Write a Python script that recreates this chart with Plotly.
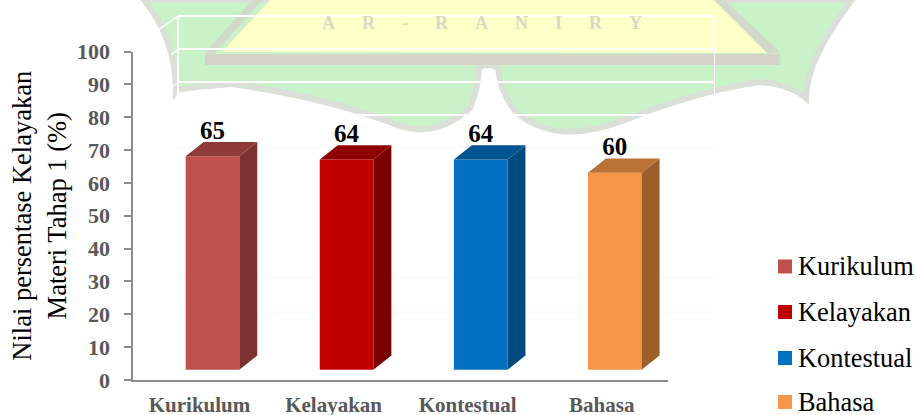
import plotly.graph_objects as go

categories = ["Kurikulum", "Kelayakan", "Kontestual", "Bahasa"]
values = [65, 64, 64, 60]
front_colors = ["#C0504D", "#C00000", "#0070C0", "#F79646"]
top_colors = ["#8E3A38", "#8F0000", "#005490", "#BA7236"]
side_colors = ["#7C3230", "#7A0000", "#004A80", "#9C5F2C"]
y_ticks = [0, 10, 20, 30, 40, 50, 60, 70, 80, 90, 100]
y_title = "Nilai persentase Kelayakan<br>Materi Tahap 1 (%)"

W, H = 916, 415
SERIF = "Liberation Serif, Times New Roman, serif"
bar_width = 0.4
base = 3.1
depth_x = 0.134
depth_y = 4.35


def px(x):
    return x / W


def py(y):
    return 1 - y / H


def poly(points, **kw):
    d = "M" + " L".join(f"{px(x):.5f},{py(y):.5f}" for x, y in points) + " Z"
    return dict(type="path", path=d, xref="paper", yref="paper", layer="below", **kw)


fig = go.Figure()
for i, (name, v) in enumerate(zip(categories, values)):
    l, r = i - bar_width / 2, i + bar_width / 2
    t = base + v
    fig.add_trace(go.Scatter(
        x=[r, r + depth_x, r + depth_x, r, r], y=[base, base + depth_y, t + depth_y, t, base],
        fill="toself", fillcolor=side_colors[i], mode="lines", line=dict(width=0),
        hoverinfo="skip", showlegend=False, cliponaxis=False))
    fig.add_trace(go.Scatter(
        x=[l, r, r + depth_x, l + depth_x, l], y=[t, t, t + depth_y, t + depth_y, t],
        fill="toself", fillcolor=top_colors[i], mode="lines", line=dict(width=0),
        hoverinfo="skip", showlegend=False, cliponaxis=False))
    fig.add_trace(go.Bar(
        x=[i], y=[v], base=base, width=bar_width, name=name,
        marker=dict(color=front_colors[i], line=dict(width=0)), showlegend=False))
    fig.add_trace(go.Scatter(
        x=[i], y=[t + depth_y - 1], mode="text", text=[str(v)], textposition="top center",
        textfont=dict(family=SERIF, size=25, color="#000000"),
        texttemplate="<b>%{text}</b>", hoverinfo="skip", showlegend=False, cliponaxis=False))

shapes = []
# watermark behind the chart
pts = [(144, 0), (176, 40), (176, 91), (178, 88), (232, 84), (330, 98), (400, 126), (436, 138),
       (470, 108), (478, 90), (479, 68), (488, 62), (498, 68), (500, 92), (516, 112), (556, 146),
       (622, 121), (700, 90), (760, 82), (790, 84), (806, 98), (806, 60), (852, 0)]


def c(p):
    return f"{px(p[0]):.5f},{py(p[1]):.5f}"


seq = [c(p) for p in pts]
path = "M" + seq[0]
for j in range(1, len(seq) - 1, 2):
    path += " Q" + seq[j] + " " + seq[j + 1]
path += " Z"
shapes.append(dict(type="path", path=path, xref="paper", yref="paper", layer="below",
                   fillcolor="#C9F2C9", line=dict(color="#DADFD8", width=6)))
shapes.append(poly([(272, -2), (222, 52), (772, 53), (712, -2)], fillcolor="#FFFFC8", line=dict(width=0)))
shapes.append(poly([(254, -2), (264, -2), (214, 54), (204, 54)], fillcolor="#D2D9C8", line=dict(width=0)))
shapes.append(poly([(712, -2), (722, -2), (780, 52), (768, 54)], fillcolor="#D2D9C8", line=dict(width=0)))
shapes.append(poly([(205, 54), (780, 54), (780, 65), (205, 65)], fillcolor="#D4D4C8", line=dict(width=0)))

# back wall lines of the 3D frame
for y in [147, 278, 312]:
    shapes.append(dict(type="line", xref="paper", yref="paper", layer="below",
                       x0=px(178), x1=px(714), y0=py(y), y1=py(y), line=dict(color="#F8F8F8", width=1)))
for y in [16, 49, 82, 115]:
    shapes.append(dict(type="line", xref="paper", yref="paper", layer="below",
                       x0=px(178), x1=px(715), y0=py(y), y1=py(y), line=dict(color="#FFFFFF", width=2)))
shapes.append(dict(type="line", xref="paper", yref="paper", layer="below", x0=px(178), x1=px(178),
                   y0=py(16), y1=py(95), line=dict(color="#FFFFFF", width=2)))
shapes.append(dict(type="line", xref="paper", yref="paper", layer="below", x0=px(714.5), x1=px(714.5),
                   y0=py(16), y1=py(100), line=dict(color="#FFFFFF", width=1)))
for y0, y1, x1 in [(16, 30, 158), (49, 55, 171), (82, 88, 171)]:
    shapes.append(dict(type="line", xref="paper", yref="paper", layer="below", x0=px(178), x1=px(x1),
                       y0=py(y0), y1=py(y1), line=dict(color="#FFFFFF", width=1.5)))

sp = "\u00a0" * 6
annotations = [dict(
    text="<b>" + sp.join(["A", "R", "-", "R", "A", "N", "I", "R", "Y"]) + "</b>",
    xref="paper", yref="paper", x=px(482), y=py(23), xanchor="center", yanchor="middle", showarrow=False,
    font=dict(family=SERIF, size=18, color="#DADAC2"))]

# legend
legend_y = [266.5, 312, 358, 402]
for name, col, y in zip(categories, front_colors, legend_y):
    shapes.append(dict(type="rect", xref="paper", yref="paper", x0=px(778), x1=px(792),
                       y0=py(y - 7), y1=py(y + 7), fillcolor=col, line=dict(width=0)))
    annotations.append(dict(text=name, xref="paper", yref="paper", x=px(797), y=py(y - 0.5),
                            xanchor="left", yanchor="middle", showarrow=False, xshift=-1,
                            font=dict(family=SERIF, size=26.4, color="#000000")))

fig.update_layout(
    width=W, height=H, margin=dict(l=0, r=0, t=0, b=0, autoexpand=False),
    paper_bgcolor="#FFFFFF", plot_bgcolor="rgba(0,0,0,0)", barmode="overlay",
    showlegend=False, shapes=shapes, annotations=annotations,
    xaxis=dict(domain=[px(132.5), px(668)], range=[-0.5966, 3.397], tickmode="array",
               tickvals=list(range(len(categories))),
               ticktext=[f"<b>{c_}</b>" for c_ in categories], showgrid=False, zeroline=False,
               showline=True, linecolor="#8C8C8C", linewidth=2, ticks="", ticklabelstandoff=5,
               ticklabelshift=-13,
               tickfont=dict(family=SERIF, size=21, color="#595959")),
    yaxis=dict(domain=[py(380), py(51.5)], range=[0, 100], tickmode="array", tickvals=y_ticks,
               ticktext=[f"<b>{t}</b>" for t in y_ticks], showgrid=False, zeroline=False,
               showline=True, linecolor="#8C8C8C", linewidth=2, ticks="outside", ticklen=7,
               tickcolor="#8C8C8C", tickwidth=2, ticklabelstandoff=9,
               tickfont=dict(family=SERIF, size=22, color="#595959"),
               title=dict(text=y_title, font=dict(family=SERIF, size=26.5, color="#000000"), standoff=3)),
)
fig.write_html("out.html", config=dict(displayModeBar=False),
               post_script="document.documentElement.style.overflow='hidden';document.body.style.margin='0';")
